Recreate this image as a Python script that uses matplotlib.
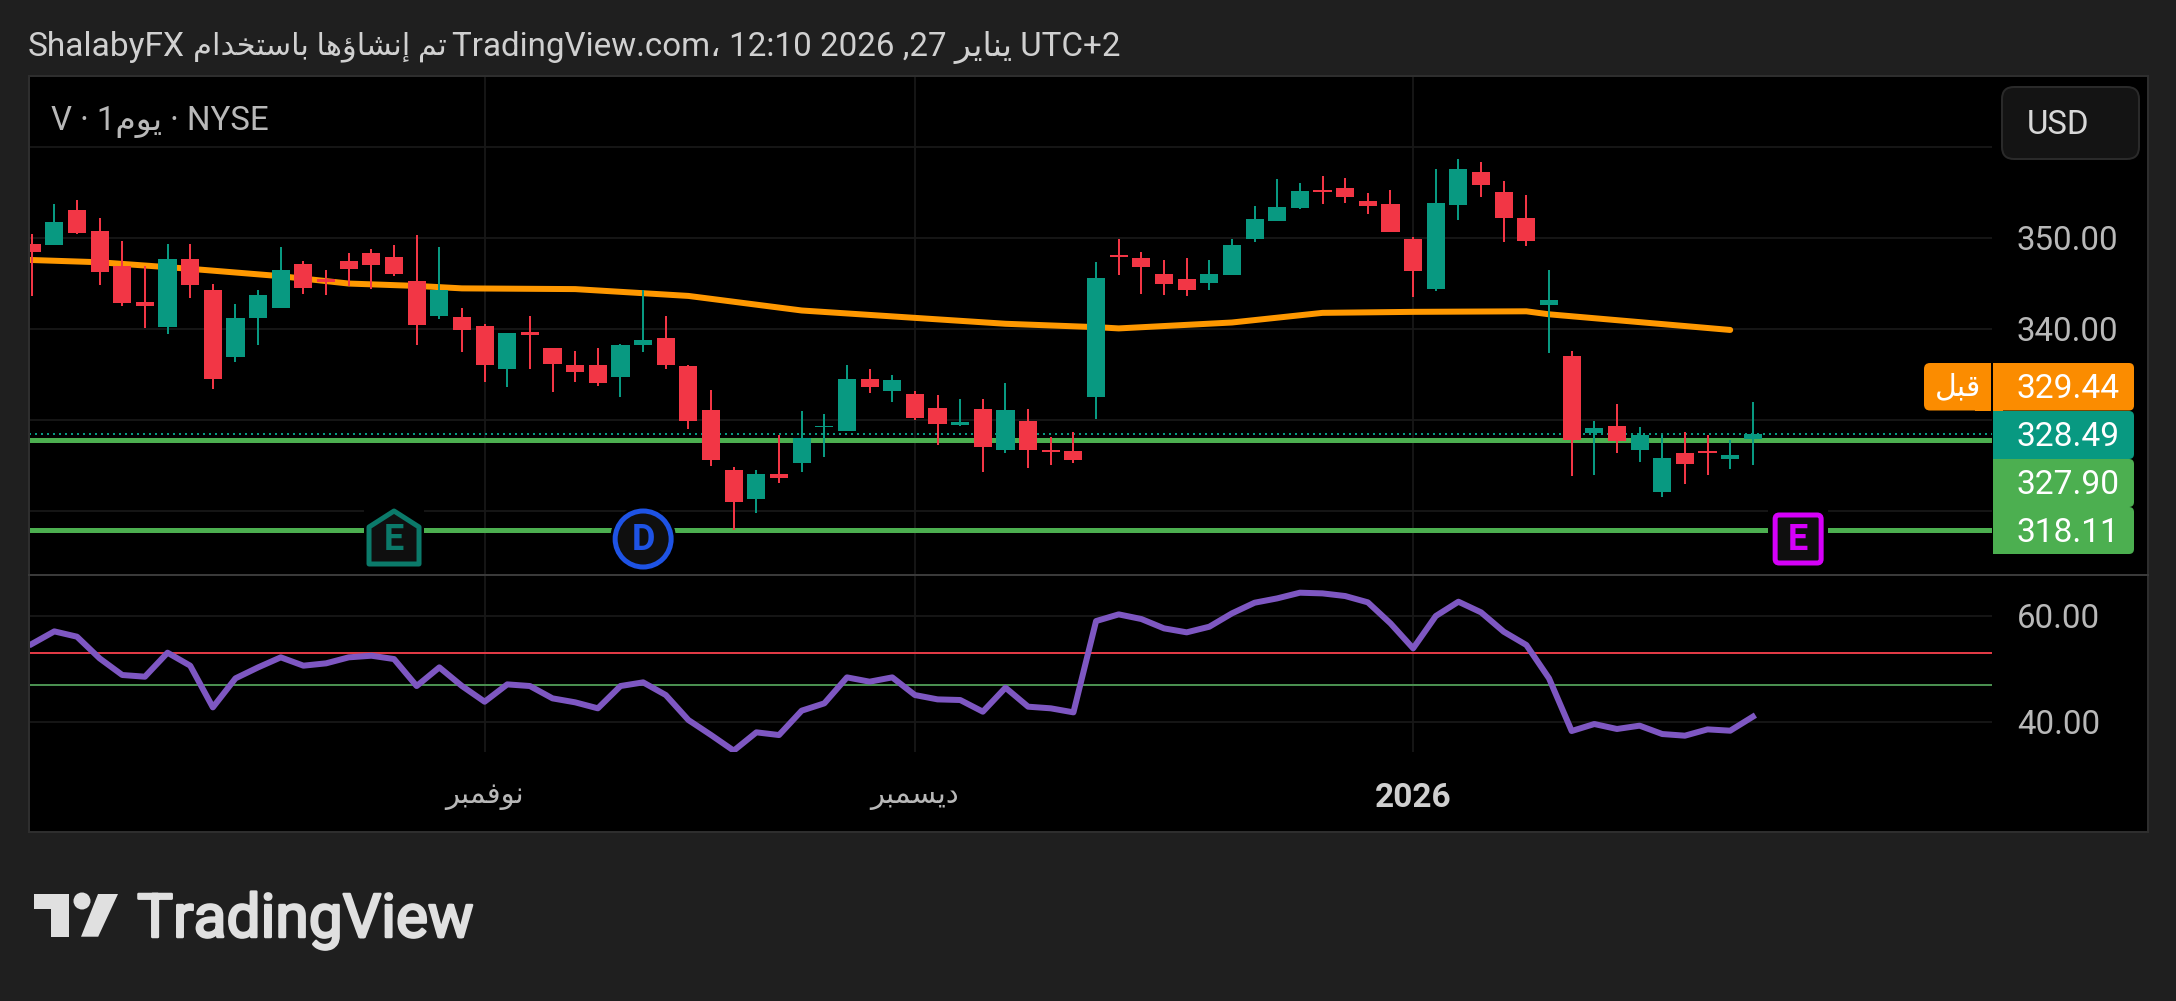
import matplotlib
matplotlib.use('Agg')
import matplotlib.pyplot as plt
import matplotlib.patheffects as pe
from matplotlib.patches import Rectangle, FancyBboxPatch, Polygon, Circle

W, H = 2176, 1001

opens = [349.29, 349.21, 353.02, 350.75, 346.86, 342.98, 340.22, 347.67, 344.27, 336.94,
         341.15, 342.29, 347.11, 345.49, 347.43, 348.32, 347.87, 345.24, 341.44, 341.32,
         340.34, 335.61, 339.62, 337.91, 336.05, 335.97, 334.64, 338.16, 339.01, 335.85,
         331.11, 324.42, 321.28, 323.99, 325.23, 329.17, 328.74, 334.51, 333.19, 332.86,
         331.33, 329.43, 331.22, 326.62, 329.80, 326.62, 326.51, 332.46, 348.10, 347.77,
         346.02, 345.47, 345.03, 345.91, 349.85, 351.83, 353.25, 355.22, 355.44, 354.02,
         353.69, 349.85, 344.39, 353.57, 357.18, 354.99, 352.15, 342.64, 336.95, 328.53,
         329.29, 326.67, 322.07, 326.34, 326.56, 325.68, 327.87]
closes = [348.44, 351.72, 350.51, 346.26, 342.85, 342.53, 347.67, 344.84, 334.51, 341.19,
          343.70, 346.46, 344.47, 345.12, 346.58, 347.02, 346.01, 340.43, 344.27, 339.90,
          336.05, 339.57, 339.33, 336.17, 335.20, 333.99, 338.24, 338.81, 335.97, 329.82,
          325.52, 320.95, 323.99, 323.55, 327.97, 329.36, 334.51, 333.63, 334.40, 330.23,
          329.47, 329.69, 326.95, 331.11, 326.62, 326.40, 325.52, 345.58, 347.92, 346.78,
          344.92, 344.26, 346.02, 349.20, 352.05, 353.36, 355.11, 355.00, 354.46, 353.47,
          350.62, 346.39, 353.79, 357.51, 355.76, 352.15, 349.64, 343.18, 327.76, 329.07,
          327.65, 328.31, 325.79, 325.14, 326.34, 326.12, 328.42]
highs = [350.38, 353.66, 354.19, 352.17, 349.62, 346.86, 349.29, 349.29, 344.88, 342.73,
         344.23, 348.97, 347.43, 346.46, 348.28, 348.77, 349.21, 350.30, 348.97, 342.29,
         340.51, 339.57, 341.44, 337.91, 337.59, 337.91, 338.36, 344.23, 341.44, 336.05,
         333.30, 324.83, 324.42, 328.37, 331.00, 330.64, 336.04, 335.60, 334.91, 333.16,
         332.72, 332.32, 332.28, 334.07, 331.18, 328.11, 328.70, 347.33, 349.85, 348.43,
         347.55, 347.77, 347.55, 349.85, 353.47, 356.43, 356.03, 356.76, 356.54, 354.90,
         355.22, 350.04, 357.51, 358.60, 358.28, 356.27, 354.67, 346.46, 337.50, 329.84,
         331.70, 329.18, 328.31, 328.64, 328.31, 327.76, 331.92]
lows = [343.62, 349.21, 350.38, 344.84, 342.53, 340.06, 339.45, 343.34, 333.42, 336.30,
        338.24, 342.29, 343.83, 343.70, 344.64, 344.31, 345.81, 338.24, 341.11, 337.47,
        334.11, 333.54, 335.61, 333.02, 334.11, 333.66, 332.45, 337.39, 335.53, 328.97,
        324.86, 317.85, 319.71, 323.00, 324.24, 325.85, 328.74, 332.97, 331.91, 330.01,
        327.20, 329.28, 324.24, 326.32, 324.68, 325.01, 325.23, 330.05, 345.94, 343.86,
        343.75, 343.64, 344.30, 345.91, 349.56, 351.83, 353.11, 353.69, 353.80, 352.59,
        350.62, 343.44, 344.09, 351.93, 354.45, 349.53, 349.09, 337.28, 323.82, 323.93,
        326.34, 325.36, 321.53, 322.95, 323.93, 324.59, 325.03]

sma_bars = [-1, 3, 7, 11, 14, 17, 19, 24, 27, 29, 34, 43, 47, 48, 53, 57, 61, 66, 67, 75]
sma_values = [347.63, 347.30, 346.58, 345.77, 344.96, 344.70, 344.43, 344.35, 343.90, 343.60,
              342.00, 340.54, 340.17, 340.03, 340.68, 341.74, 341.85, 341.91, 341.58, 339.86]

rsi_values = [54.65, 57.04, 56.04, 51.95, 48.81, 48.49, 53.02, 50.57, 42.70, 48.18,
              50.25, 52.14, 50.57, 51.01, 52.14, 52.45, 51.82, 46.73, 50.25, 46.73,
              43.77, 47.04, 46.73, 44.40, 43.65, 42.52, 46.73, 47.42, 45.03, 40.31,
              37.48, 34.53, 37.99, 37.48, 42.08, 43.46, 48.36, 47.55, 48.36, 45.03,
              44.21, 44.09, 41.89, 46.42, 42.83, 42.52, 41.76, 58.99, 60.25, 59.37,
              57.61, 56.86, 57.92, 60.44, 62.45, 63.27, 64.34, 64.21, 63.71, 62.52,
              58.55, 53.84, 59.94, 62.64, 60.63, 56.98, 54.47, 48.18, 38.24, 39.56,
              38.62, 39.25, 37.67, 37.36, 38.55, 38.30, 40.94]

price_grid = [320, 330, 340, 350, 360]
price_ticks = ['', '', '340.00', '350.00', '']
rsi_ticks = [40, 60]
rsi_tick_labels = ['40.00', '60.00']
rsi_upper, rsi_lower = 53.0, 46.9
month_bars = [20, 39, 61]
last_price = 328.42
level_lines = [327.78, 317.85]
events = [('E', 16), ('D', 27), ('E', 78)]

RED, TEAL, ORANGE, GREEN = '#f23645', '#089981', '#ff9800', '#4caf50'
PURPLE, BLUE, MAGENTA = '#7e57c2', '#1e53e5', '#d500f9'
TAG_ORANGE = '#fb8c00'
BG, GRID, BORDER, TXT = '#1f1f1f', '#181818', '#2e2e2e', '#b8b8b8'
FONT = ['Roboto', 'DejaVu Sans']
plt.rcParams['font.family'] = FONT

# matplotlib does not shape arabic, so map letters to presentation forms in drawing order
AR_START = {'ا': 0xFE8D, 'إ': 0xFE87, 'ؤ': 0xFE85, 'ب': 0xFE8F, 'ت': 0xFE95, 'خ': 0xFEA5,
            'د': 0xFEA9, 'ر': 0xFEAD, 'س': 0xFEB1, 'ش': 0xFEB5, 'ف': 0xFED1, 'ق': 0xFED5,
            'ل': 0xFEDD, 'م': 0xFEE1, 'ن': 0xFEE5, 'ه': 0xFEE9, 'و': 0xFEED, 'ي': 0xFEF1}
NO_NEXT = 'اإؤدرو'

def ar(text):
    out = []
    for word in text.split(' '):
        glyphs = ''
        for k, c in enumerate(word):
            prev_joins = k > 0 and word[k - 1] not in NO_NEXT
            next_joins = k < len(word) - 1 and c not in NO_NEXT
            glyphs += chr(AR_START[c] + {(0, 0): 0, (1, 0): 1, (0, 1): 2, (1, 1): 3}[(int(prev_joins), int(next_joins))])
        out.append(glyphs[::-1])
    return ' '.join(out[::-1])

def pt(px):
    return px * 0.72

def pane(x0, y0, x1, y1):
    return [x0 / W, 1 - y1 / H, (x1 - x0) / W, (y1 - y0) / H]

fig = plt.figure(figsize=(W / 100, H / 100), dpi=100, facecolor=BG)

back = fig.add_axes([0, 0, 1, 1], zorder=0)
back.set_xlim(0, W)
back.set_ylim(H, 0)
back.axis('off')
back.add_patch(Rectangle((28.5, 75.5), 2119, 756, facecolor='black', edgecolor='none'))

ax = fig.add_axes(pane(28.5, 76, 1992, 574), zorder=1, facecolor='black')
rsi_ax = fig.add_axes(pane(28.5, 575, 1992, 752), zorder=1, facecolor='black')

xlim = (-0.14, 86.56)
for a in (ax, rsi_ax):
    a.set_xlim(*xlim)
    for s in a.spines.values():
        s.set_visible(False)
    a.set_axisbelow(True)
    a.grid(True, color=GRID, linewidth=pt(1.8))
    a.yaxis.tick_right()
    a.tick_params(length=0)
    a.set_xticks(month_bars)

ax.set_ylim(313.04, 367.77)
ax.set_yticks(price_grid)
ax.set_yticklabels(price_ticks, fontsize=pt(33), color=TXT)
ax.tick_params(axis='y', pad=pt(25))
ax.set_xticklabels([])

for level in level_lines:
    ax.axhline(level, color=GREEN, linewidth=pt(5), zorder=2)
ax.plot(sma_bars, sma_values, color=ORANGE, linewidth=pt(6), solid_capstyle='round', zorder=3)
ax.axhline(last_price, color=TEAL, linewidth=pt(2), linestyle=(0, (1, 2)), zorder=4)

bars = list(range(len(opens)))
colors = [TEAL if c >= o else RED for o, c in zip(opens, closes)]
ax.vlines(bars, lows, highs, colors=colors, linewidth=pt(2), zorder=5)
ax.bar(bars, [abs(c - o) for o, c in zip(opens, closes)], bottom=[min(o, c) for o, c in zip(opens, closes)],
       width=0.8, color=colors, linewidth=0, zorder=6)

rsi_ax.set_ylim(34.28, 67.68)
rsi_ax.set_yticks(rsi_ticks)
rsi_ax.set_yticklabels(rsi_tick_labels, fontsize=pt(33), color=TXT)
rsi_ax.tick_params(axis='y', pad=pt(25))
rsi_ax.axhline(rsi_upper, color='#e03a45', linewidth=pt(2), zorder=2)
rsi_ax.axhline(rsi_lower, color='#4a8f50', linewidth=pt(2), zorder=2)
rsi_ax.plot(bars, rsi_values, color=PURPLE, linewidth=pt(6), zorder=3)
rsi_ax.set_xticklabels([ar('نوفمبر'), ar('ديسمبر'), '2026'], fontsize=pt(29), color=TXT)
rsi_ax.tick_params(axis='x', pad=pt(30))
year_label = rsi_ax.get_xticklabels()[2]
year_label.set_fontweight('bold')
year_label.set_fontsize(pt(33.5))
year_label.set_color('#cfcfcf')

# overlay in picture pixels for texts, price tags and event badges
ov = fig.add_axes([0, 0, 1, 1], zorder=2)
ov.set_xlim(0, W)
ov.set_ylim(H, 0)
ov.axis('off')

ov.add_patch(Rectangle((28.5, 75.5), 2119, 756, facecolor='none', edgecolor=BORDER, linewidth=pt(2)))
ov.plot([28.5, 2148], [575, 575], color='#3a3a3a', linewidth=pt(2))

TITLE_COLOR = '#d0d0d0'
ov.text(28, 47, 'ShalabyFX', fontsize=pt(33.5), color=TITLE_COLOR, va='center', ha='left')
ov.text(193, 47, ar('تم إنشاؤها باستخدام'), fontsize=pt(30.5), color=TITLE_COLOR, va='center', ha='left')
ov.text(452, 47, 'TradingView.com، 12:10 2026 ,27 ' + ar('يناير') + ' UTC+2', fontsize=pt(33.2), color=TITLE_COLOR, va='center', ha='left')
ov.text(51, 122, 'V · 1' + ar('يوم') + ' · NYSE', fontsize=pt(33), color=TXT, va='center', ha='left')

ov.add_patch(FancyBboxPatch((2012, 97), 117, 52, boxstyle='round,pad=10,rounding_size=12',
                            facecolor='#141414', edgecolor='#2a2a2a', linewidth=pt(2)))
ov.text(2027, 125, 'USD', fontsize=pt(33), color='#d8d8d8', va='center', ha='left')

tags = [(363, 410.5, TAG_ORANGE, '329.44'), (411, 459, TEAL, '328.49'), (459, 507, GREEN, '327.90'), (507, 554, GREEN, '318.11')]
for y0, y1, col, label in tags:
    ov.add_patch(FancyBboxPatch((1996, y0 + 3), 135, y1 - y0 - 6, boxstyle='round,pad=3,rounding_size=5',
                                facecolor=col, edgecolor='none'))
    ov.add_patch(Rectangle((1993, y0), 10, y1 - y0, facecolor=col, edgecolor='none'))
    ov.text(2016, (y0 + y1) / 2 + 2.5, label, fontsize=pt(33.5), color='white', va='center', ha='left')
ov.add_patch(FancyBboxPatch((1927, 366), 61, 41.5, boxstyle='round,pad=3,rounding_size=6', facecolor=TAG_ORANGE, edgecolor='none'))
ov.add_patch(Rectangle((1975, 363), 16, 47.5, facecolor=TAG_ORANGE, edgecolor='none'))
ov.text(1958, 387, ar('قبل'), fontsize=pt(30), color='white', va='center', ha='center')

# event badges sit on the bar positions of the price pane
fig.canvas.draw()
for (letter, bar), col in zip(events, ['#0b7a6a', BLUE, MAGENTA]):
    cx = ax.transData.transform((bar, 330))[0]
    cy = 539
    if letter == 'D':
        shape = Circle((cx, cy), 28, facecolor='#0f0f0f', edgecolor=col, linewidth=pt(5))
        halo = Circle((cx, cy), 33, facecolor='black', edgecolor='none')
    elif bar == events[0][1]:
        pts = [(cx - 25, cy - 12), (cx, cy - 28), (cx + 25, cy - 12), (cx + 25, cy + 25), (cx - 25, cy + 25)]
        shape = Polygon(pts, closed=True, facecolor='#0f0f0f', edgecolor=col, linewidth=pt(5), joinstyle='round')
        halo = Rectangle((cx - 30, cy - 32), 60, 62, facecolor='black', edgecolor='none')
    else:
        shape = FancyBboxPatch((cx - 23, cy - 24), 46, 48, boxstyle='round,pad=0,rounding_size=4',
                               facecolor='#0f0f0f', edgecolor=col, linewidth=pt(5))
        halo = Rectangle((cx - 30, cy - 29), 60, 58, facecolor='black', edgecolor='none')
    ov.add_patch(halo)
    ov.add_patch(shape)
    ov.text(cx, cy + 1, letter, fontsize=pt(36), fontweight='bold', color=col, va='center', ha='center')

# logo
logo = '#e0e0e0'
ov.add_patch(Polygon([(33.7, 894), (68.8, 894), (68.8, 936.7), (50.5, 936.7), (50.5, 909), (33.7, 909)], facecolor=logo, edgecolor='none'))
ov.add_patch(Circle((82, 901), 8.5, facecolor=logo, edgecolor='none'))
ov.add_patch(Polygon([(98, 894), (118, 894), (98.2, 936.7), (81, 936.7)], facecolor=logo, edgecolor='none'))
ov.text(137, 937, 'TradingView', fontsize=pt(60.5), color=logo, va='baseline', ha='left',
        path_effects=[pe.withStroke(linewidth=pt(2.5), foreground=logo)])

fig.savefig('out.png', dpi=100, facecolor=BG)
